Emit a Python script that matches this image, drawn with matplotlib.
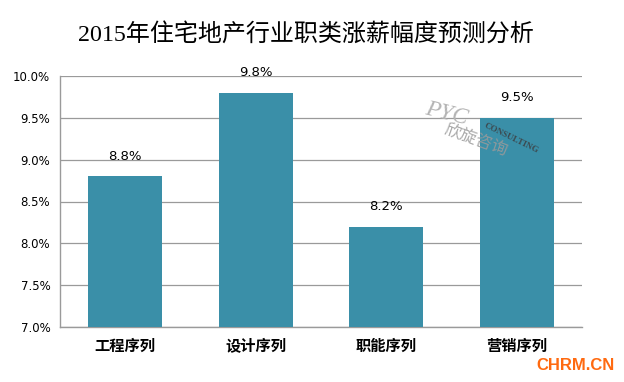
import matplotlib.pyplot as plt
from matplotlib.ticker import FuncFormatter

plt.rcParams['font.family'] = ['DejaVu Sans', 'Noto Sans CJK SC']

# data
categories = ['工程序列', '设计序列', '职能序列', '营销序列']
values = [8.8, 9.8, 8.2, 9.5]
yticks = [7.0, 7.5, 8.0, 8.5, 9.0, 9.5, 10.0]
title = '2015年住宅地产行业职类涨薪幅度预测分析'

fig = plt.figure(figsize=(6.24, 3.82), dpi=100)
ax = fig.add_axes([60 / 624, 1 - 327 / 382, 522 / 624, 251 / 382])

bar_color = '#3a8fa8'
ax.bar(range(len(categories)), values, width=0.57, color=bar_color, zorder=3)

ax.set_ylim(7.0, 10.0)
ax.set_xlim(-0.5, len(categories) - 0.5)
ax.set_yticks(yticks)
ax.yaxis.set_major_formatter(FuncFormatter(lambda v, p: f'{v:.1f}%'))
ax.grid(axis='y', color='#9a9a9a', linewidth=0.9, zorder=0)
ax.tick_params(axis='y', length=0, pad=7, labelsize=8.5)
ax.tick_params(axis='x', length=0, pad=8, labelsize=11)
ax.set_xticks(range(len(categories)))
ax.set_xticklabels(categories, family=['Noto Sans CJK SC', 'DejaVu Sans'],
                   fontweight='bold')

for s in ['top', 'right']:
    ax.spines[s].set_visible(False)
for s in ['left', 'bottom']:
    ax.spines[s].set_color('#9a9a9a')
    ax.spines[s].set_linewidth(1.0)

# value labels
for i, v in enumerate(values):
    ax.text(i, v + 0.24, f'{v:.1f}%', ha='center', va='center', fontsize=9.5,
            zorder=4)

# title
fig.text(306 / 624, 1 - 34 / 382, title, ha='center', va='center',
         fontsize=17.3, family=['Liberation Serif', 'Noto Sans CJK SC'])

# watermark
fig.text(446 / 624, 1 - 114 / 382, 'PYC', fontsize=17, color='#b4b4b4',
         rotation=-14, ha='center', va='center', family='Liberation Serif',
         style='italic', zorder=5)
fig.text(476 / 624, 1 - 141 / 382, '欣旋咨询', fontsize=12, color='#9a9a9a',
         rotation=-20, ha='center', va='center', alpha=0.85,
         family=['Noto Sans CJK SC'], zorder=5)
fig.text(511 / 624, 1 - 138 / 382, 'CONSULTING', fontsize=6.5, color='#3c4a50',
         rotation=-26, ha='center', va='center', family='Liberation Serif',
         fontweight='bold', zorder=5)

# corner mark
fig.text(615 / 624, 1 - 366 / 382, 'CHRM.CN', fontsize=12, color='#ff6a10',
         fontweight='bold', ha='right', va='center', family='Liberation Sans')

fig.savefig('out.png', dpi=100)
